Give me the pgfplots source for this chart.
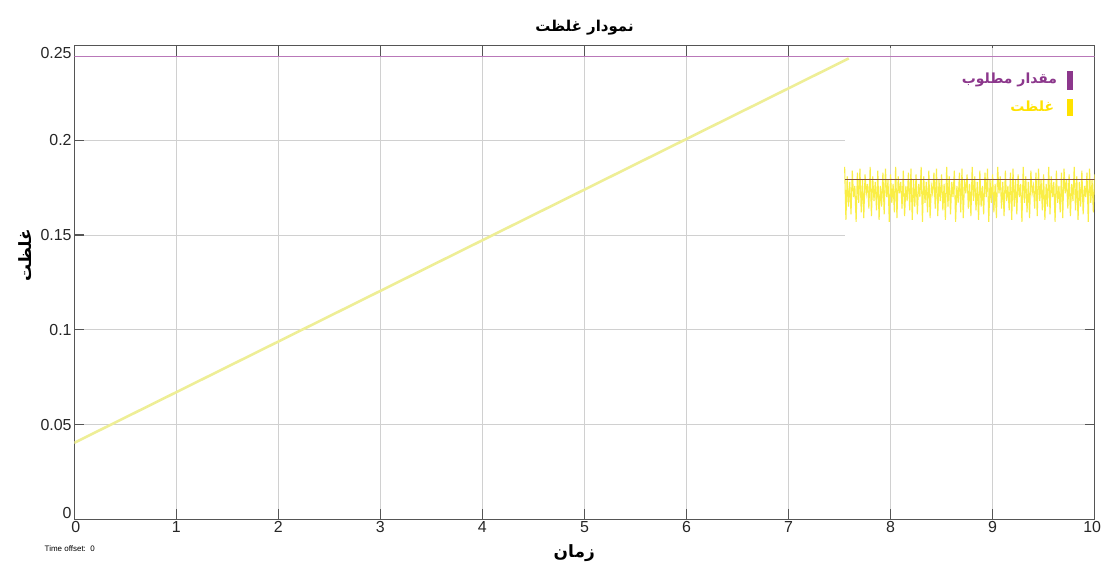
\documentclass[border=0pt]{standalone}
\usepackage{fontspec}
\setmainfont{Liberation Sans}
\newfontfamily\arabicfont[Script=Arabic]{DejaVu Sans}
\usepackage{pgfplots}
\usepackage{pgfplotstable}
\pgfplotsset{compat=1.18}
\TeXXeTstate=1

\definecolor{gridc}{RGB}{208,208,208}
\definecolor{axc}{RGB}{85,85,85}
\definecolor{setpt}{RGB}{185,120,185}
\definecolor{setptdark}{RGB}{140,55,140}
\definecolor{ramp}{RGB}{238,238,150}
\definecolor{conc}{RGB}{250,238,70}
\definecolor{concdark}{RGB}{255,226,0}
\definecolor{meanline}{RGB}{130,80,60}

% oscillating phase of the concentration signal
\pgfplotstableread{
x y
7.5500 0.186
7.5625 0.158
7.5750 0.181
7.5875 0.165
7.6000 0.178
7.6125 0.161
7.6250 0.184
7.6375 0.170
7.6500 0.176
7.6625 0.157
7.6750 0.183
7.6875 0.167
7.7000 0.185
7.7125 0.162
7.7250 0.179
7.7375 0.159
7.7500 0.182
7.7625 0.172
7.7750 0.177
7.7875 0.164
7.8000 0.186
7.8125 0.160
7.8250 0.181
7.8375 0.168
7.8500 0.178
7.8625 0.163
7.8750 0.184
7.8875 0.158
7.9000 0.176
7.9125 0.165
7.9250 0.183
7.9375 0.161
7.9500 0.185
7.9625 0.170
7.9750 0.179
7.9875 0.157
8.0000 0.182
8.0125 0.167
8.0250 0.177
8.0375 0.162
8.0500 0.186
8.0625 0.159
8.0750 0.181
8.0875 0.172
8.1000 0.178
8.1125 0.164
8.1250 0.184
8.1375 0.160
8.1500 0.176
8.1625 0.168
8.1750 0.183
8.1875 0.163
8.2000 0.185
8.2125 0.158
8.2250 0.179
8.2375 0.165
8.2500 0.182
8.2625 0.161
8.2750 0.177
8.2875 0.170
8.3000 0.186
8.3125 0.157
8.3250 0.181
8.3375 0.167
8.3500 0.178
8.3625 0.162
8.3750 0.184
8.3875 0.159
8.4000 0.176
8.4125 0.172
8.4250 0.183
8.4375 0.164
8.4500 0.185
8.4625 0.160
8.4750 0.179
8.4875 0.168
8.5000 0.182
8.5125 0.163
8.5250 0.177
8.5375 0.158
8.5500 0.186
8.5625 0.165
8.5750 0.181
8.5875 0.161
8.6000 0.178
8.6125 0.170
8.6250 0.184
8.6375 0.157
8.6500 0.176
8.6625 0.167
8.6750 0.183
8.6875 0.162
8.7000 0.185
8.7125 0.159
8.7250 0.179
8.7375 0.172
8.7500 0.182
8.7625 0.164
8.7750 0.177
8.7875 0.160
8.8000 0.186
8.8125 0.168
8.8250 0.181
8.8375 0.163
8.8500 0.178
8.8625 0.158
8.8750 0.184
8.8875 0.165
8.9000 0.176
8.9125 0.161
8.9250 0.183
8.9375 0.170
8.9500 0.185
8.9625 0.157
8.9750 0.179
8.9875 0.167
9.0000 0.182
9.0125 0.162
9.0250 0.177
9.0375 0.159
9.0500 0.186
9.0625 0.172
9.0750 0.181
9.0875 0.164
9.1000 0.178
9.1125 0.160
9.1250 0.184
9.1375 0.168
9.1500 0.176
9.1625 0.163
9.1750 0.183
9.1875 0.158
9.2000 0.185
9.2125 0.165
9.2250 0.179
9.2375 0.161
9.2500 0.182
9.2625 0.170
9.2750 0.177
9.2875 0.157
9.3000 0.186
9.3125 0.167
9.3250 0.181
9.3375 0.162
9.3500 0.178
9.3625 0.159
9.3750 0.184
9.3875 0.172
9.4000 0.176
9.4125 0.164
9.4250 0.183
9.4375 0.160
9.4500 0.185
9.4625 0.168
9.4750 0.179
9.4875 0.163
9.5000 0.182
9.5125 0.158
9.5250 0.177
9.5375 0.165
9.5500 0.186
9.5625 0.161
9.5750 0.181
9.5875 0.170
9.6000 0.178
9.6125 0.157
9.6250 0.184
9.6375 0.167
9.6500 0.176
9.6625 0.162
9.6750 0.183
9.6875 0.159
9.7000 0.185
9.7125 0.172
9.7250 0.179
9.7375 0.164
9.7500 0.182
9.7625 0.160
9.7750 0.177
9.7875 0.168
9.8000 0.186
9.8125 0.163
9.8250 0.181
9.8375 0.158
9.8500 0.178
9.8625 0.165
9.8750 0.184
9.8875 0.161
9.9000 0.176
9.9125 0.170
9.9250 0.183
9.9375 0.157
9.9500 0.185
9.9625 0.167
9.9750 0.179
9.9875 0.162
10.0000 0.182
}\osc

\begin{document}
\begin{tikzpicture}
\begin{axis}[
  at={(0pt,0pt)}, anchor=south west,
  scale only axis, width=1023.5pt, height=475.3pt,
  xmin=0, xmax=10, ymin=0, ymax=0.25,
  xtick={0,1,2,3,4,5,6,7,8,9,10},
  xticklabels={\hspace{3pt}0\hspace{-3pt},1,2,3,4,5,6,7,8,9,\hspace{-5pt}10\hspace{5pt}},
  ytick={0,0.05,0.1,0.15,0.2,0.25},
  yticklabels={\raisebox{6pt}[\height][\depth]{0},0.05,0.1,0.15,0.2,\raisebox{-7pt}[\height][\depth]{0.25}},
  tick label style={font=\fontsize{16}{19}\selectfont, text=black!85},
  yticklabel style={inner sep=0pt, xshift=-2.5pt},
  xticklabel style={inner sep=0pt, yshift=-2pt},
  grid=major,
  major grid style={gridc, line width=1pt},
  tick align=inside,
  major tick length=10pt,
  tick style={axc, line width=1.2pt},
  axis line style={axc, line width=1.3pt},
  title={\arabicfont\bfseries\beginR نمودار غلظت\endR},
  title style={at={(axis description cs:0.5,1)}, anchor=center, yshift=12pt,
               font=\fontsize{15}{18}\selectfont},
  xlabel={\arabicfont\bfseries\beginR زمان\endR},
  xlabel style={at={(axis description cs:0.49,-0.072)}, anchor=center,
                font=\fontsize{17}{20}\selectfont},
  ylabel={\arabicfont\bfseries\beginR غلظت\endR},
  ylabel style={at={(axis description cs:-0.048,0.558)}, anchor=center,
                font=\fontsize{17}{20}\selectfont},
]
% blank panel behind the legend area, vertical grid lines restored on top
\fill[white] (axis cs:7.55,0.127) rectangle (axis cs:9.99,0.2485);
\draw[gridc, line width=1pt] (axis cs:8,0.127) -- (axis cs:8,0.2485);
\draw[gridc, line width=1pt] (axis cs:9,0.127) -- (axis cs:9,0.2485);

% desired value
\addplot[setpt, line width=1.5pt] coordinates {(0,0.2442) (10,0.2442)};
% concentration: ramp-up phase
\addplot[ramp, line width=2.6pt] coordinates {(0,0.0404) (7.59,0.2432)};
% concentration: oscillating phase
\addplot[conc, line width=1.1pt] table[x=x, y=y] {\osc};
% mean level of the oscillation
\addplot[meanline, line width=1.1pt] coordinates {(7.55,0.1795) (10,0.1795)};
\end{axis}

% legend
\fill[setptdark] (995.5pt,431pt) rectangle (1001.5pt,450pt);
\fill[concdark] (995.5pt,405pt) rectangle (1001.5pt,422pt);
\node[anchor=east, inner sep=0pt, text=setptdark, font=\fontsize{14}{17}\selectfont]
  at (986pt,441pt) {\arabicfont\bfseries\beginR مقدار مطلوب\endR};
\node[anchor=east, inner sep=0pt, text=concdark, font=\fontsize{14}{17}\selectfont]
  at (983pt,414pt) {\arabicfont\bfseries\beginR غلظت\endR};

\node[anchor=center, inner sep=0pt, font=\fontsize{8}{9}\selectfont]
  at (-4.5pt,-29pt) {Time offset:\ \ 0};

\path[use as bounding box] (-74.5pt,-45pt) rectangle (1026.5pt,521pt);
\end{tikzpicture}
\end{document}
